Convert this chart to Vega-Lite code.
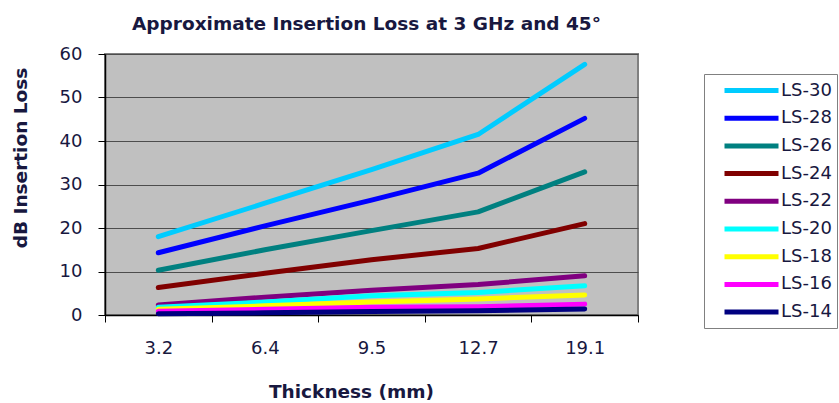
{
  "$schema": "https://vega.github.io/schema/vega-lite/v6.json",
  "width": 533,
  "height": 261,
  "autosize": {"type": "none"},
  "padding": {"left": 105, "top": 54, "right": 201, "bottom": 88},
  "background": "white",
  "title": {
    "text": "Approximate Insertion Loss at 3 GHz and 45°",
    "font": "DejaVu Sans",
    "fontSize": 18.5,
    "fontWeight": "bold",
    "color": "#18183F",
    "anchor": "middle",
    "baseline": "alphabetic",
    "offset": -3,
    "dx": -5
  },
  "config": {
    "view": {"fill": "#C0C0C0", "stroke": "#808080", "strokeWidth": 2}
  },
  "data": {
    "values": [
      {"series": "LS-30", "thickness": "3.2", "loss": 18.0},
      {"series": "LS-30", "thickness": "6.4", "loss": 25.7},
      {"series": "LS-30", "thickness": "9.5", "loss": 33.4},
      {"series": "LS-30", "thickness": "12.7", "loss": 41.5},
      {"series": "LS-30", "thickness": "19.1", "loss": 57.6},
      {"series": "LS-28", "thickness": "3.2", "loss": 14.3},
      {"series": "LS-28", "thickness": "6.4", "loss": 20.5},
      {"series": "LS-28", "thickness": "9.5", "loss": 26.4},
      {"series": "LS-28", "thickness": "12.7", "loss": 32.6},
      {"series": "LS-28", "thickness": "19.1", "loss": 45.2},
      {"series": "LS-26", "thickness": "3.2", "loss": 10.3},
      {"series": "LS-26", "thickness": "6.4", "loss": 15.0},
      {"series": "LS-26", "thickness": "9.5", "loss": 19.4},
      {"series": "LS-26", "thickness": "12.7", "loss": 23.7},
      {"series": "LS-26", "thickness": "19.1", "loss": 32.9},
      {"series": "LS-24", "thickness": "3.2", "loss": 6.3},
      {"series": "LS-24", "thickness": "6.4", "loss": 9.6},
      {"series": "LS-24", "thickness": "9.5", "loss": 12.7},
      {"series": "LS-24", "thickness": "12.7", "loss": 15.3},
      {"series": "LS-24", "thickness": "19.1", "loss": 21.0},
      {"series": "LS-22", "thickness": "3.2", "loss": 2.3},
      {"series": "LS-22", "thickness": "6.4", "loss": 4.1},
      {"series": "LS-22", "thickness": "9.5", "loss": 5.7},
      {"series": "LS-22", "thickness": "12.7", "loss": 7.0},
      {"series": "LS-22", "thickness": "19.1", "loss": 9.0},
      {"series": "LS-20", "thickness": "3.2", "loss": 1.8},
      {"series": "LS-20", "thickness": "6.4", "loss": 3.0},
      {"series": "LS-20", "thickness": "9.5", "loss": 4.4},
      {"series": "LS-20", "thickness": "12.7", "loss": 5.2},
      {"series": "LS-20", "thickness": "19.1", "loss": 6.7},
      {"series": "LS-18", "thickness": "3.2", "loss": 1.3},
      {"series": "LS-18", "thickness": "6.4", "loss": 2.1},
      {"series": "LS-18", "thickness": "9.5", "loss": 3.0},
      {"series": "LS-18", "thickness": "12.7", "loss": 3.7},
      {"series": "LS-18", "thickness": "19.1", "loss": 4.6},
      {"series": "LS-16", "thickness": "3.2", "loss": 0.85},
      {"series": "LS-16", "thickness": "6.4", "loss": 1.3},
      {"series": "LS-16", "thickness": "9.5", "loss": 1.8},
      {"series": "LS-16", "thickness": "12.7", "loss": 1.9},
      {"series": "LS-16", "thickness": "19.1", "loss": 2.5},
      {"series": "LS-14", "thickness": "3.2", "loss": 0.3},
      {"series": "LS-14", "thickness": "6.4", "loss": 0.5},
      {"series": "LS-14", "thickness": "9.5", "loss": 0.8},
      {"series": "LS-14", "thickness": "12.7", "loss": 1.0},
      {"series": "LS-14", "thickness": "19.1", "loss": 1.4}
    ]
  },
  "mark": {"type": "line", "strokeWidth": 5, "strokeCap": "round", "strokeJoin": "round"},
  "encoding": {
    "x": {
      "field": "thickness",
      "type": "ordinal",
      "sort": ["3.2", "6.4", "9.5", "12.7", "19.1"],
      "bandPosition": 0.5,
      "scale": {"type": "band", "paddingInner": 0, "paddingOuter": 0},
      "axis": {
        "title": "Thickness (mm)",
        "titleFont": "DejaVu Sans",
        "titleFontSize": 18.5,
        "titleFontWeight": "bold",
        "titleColor": "#18183F",
        "titleX": 246,
        "titleY": 82,
        "titleBaseline": "alphabetic",
        "titleAlign": "center",
        "labelAngle": 0,
        "labelFont": "DejaVu Sans",
        "labelFontSize": 18,
        "labelColor": "#18183F",
        "labelBaseline": "alphabetic",
        "labelPadding": 31,
        "tickBand": "extent",
        "tickSize": 7,
        "tickColor": "#000000",
        "tickWidth": 1,
        "domainColor": "#000000",
        "domainWidth": 1.5,
        "grid": false
      }
    },
    "y": {
      "field": "loss",
      "type": "quantitative",
      "scale": {"domain": [0, 60], "nice": false},
      "axis": {
        "title": "dB Insertion Loss",
        "titleFont": "DejaVu Sans",
        "titleFontSize": 18.5,
        "titleFontWeight": "bold",
        "titleColor": "#18183F",
        "titleAngle": 270,
        "titleX": -85,
        "titleY": 103.5,
        "titleBaseline": "middle",
        "titleAlign": "center",
        "values": [0, 10, 20, 30, 40, 50, 60],
        "labelFont": "DejaVu Sans",
        "labelFontSize": 18,
        "labelColor": "#18183F",
        "labelPadding": 16,
        "tickSize": 7,
        "tickColor": "#000000",
        "domainColor": "#000000",
        "domainWidth": 1.5,
        "grid": true,
        "gridColor": "#4d4d4d",
        "gridWidth": 1
      }
    },
    "color": {
      "field": "series",
      "type": "nominal",
      "sort": ["LS-30", "LS-28", "LS-26", "LS-24", "LS-22", "LS-20", "LS-18", "LS-16", "LS-14"],
      "scale": {
        "domain": ["LS-30", "LS-28", "LS-26", "LS-24", "LS-22", "LS-20", "LS-18", "LS-16", "LS-14"],
        "range": ["#00CCFF", "#0000FF", "#008080", "#800000", "#800080", "#00FFFF", "#FFFF00", "#FF00FF", "#000080"]
      },
      "legend": {
        "orient": "none",
        "legendX": 599,
        "legendY": 20,
        "title": null,
        "symbolType": "M-3,0H3",
        "symbolSize": 324,
        "symbolStrokeWidth": 5,
        "symbolOffset": 31,
        "labelOffset": 18,
        "labelFont": "DejaVu Sans",
        "labelFontSize": 18,
        "labelColor": "#18183F",
        "labelLimit": 200,
        "rowPadding": 5.7,
        "padding": 5,
        "strokeColor": "#808080",
        "fillColor": "white",
        "cornerRadius": 0
      }
    }
  }
}
